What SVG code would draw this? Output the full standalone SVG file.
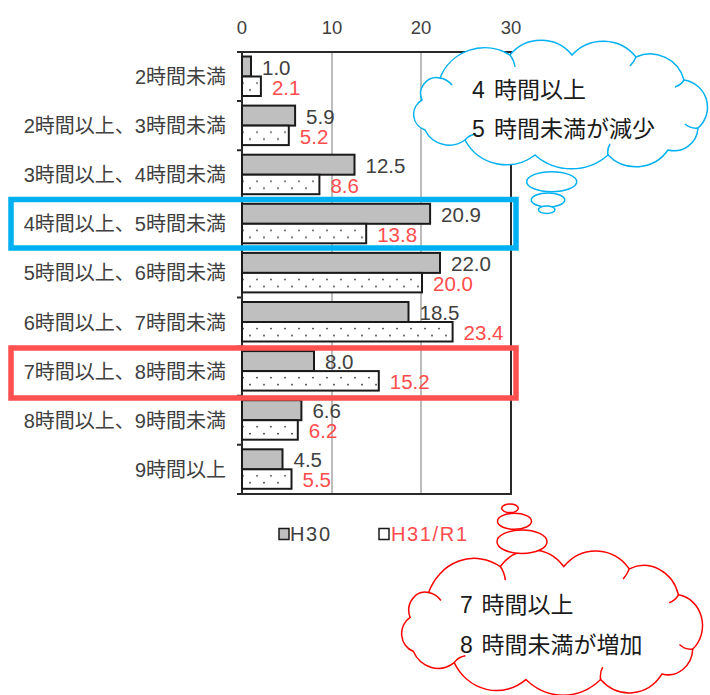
<svg xmlns="http://www.w3.org/2000/svg" width="710" height="695" viewBox="0 0 710 695">
<defs>
<style>
.lbl{font-family:"Liberation Sans","Noto Sans CJK JP",sans-serif;font-size:20px;fill:#404040;text-anchor:end}
.v30{font-family:"Liberation Sans",sans-serif;font-size:20.5px;fill:#404040}
.v31{font-family:"Liberation Sans",sans-serif;font-size:20.5px;fill:#ff4d4d}
.ax{font-family:"Liberation Sans",sans-serif;font-size:18.5px;fill:#404040;text-anchor:middle}
.b30{fill:#bfbfbf;stroke:#1a1a1a;stroke-width:2}
.b31{fill:url(#dots);stroke:#1a1a1a;stroke-width:2}
.grid{stroke:#a6a6a6;stroke-width:1.5}
.axis{stroke:#2a2a2a;stroke-width:2;fill:none}
.ct{font-family:"Liberation Sans","Noto Sans CJK JP",sans-serif;font-size:23px;fill:#1a1a1a}
.cb{fill:#fff;stroke:#00b0f0;stroke-width:1.5}
.cbi{fill:none;stroke:#00b0f0;stroke-width:1.5}
.cr{fill:#fff;stroke:#ff0000;stroke-width:1.5}
.cri{fill:none;stroke:#ff0000;stroke-width:1.5}
.leg{font-family:"Liberation Sans",sans-serif;font-size:20px}
</style>
<pattern id="dots" patternUnits="userSpaceOnUse" width="14" height="49.1">
<rect width="14" height="49.1" fill="#fff"/>
<circle cx="5" cy="31" r="0.9" fill="#333"/>
<circle cx="12" cy="38" r="0.9" fill="#333"/>
</pattern>
<path id="cloud" vector-effect="non-scaling-stroke" d="M25,35 A48,48 0 0 1 95,12 A40,40 0 0 1 157,12 A42,42 0 0 1 221,14 A35,35 0 0 1 269,37 A27.5,27.5 0 0 1 283,85 A24,24 0 0 1 253,107 A39,39 0 0 1 193,112 A55,55 0 0 1 120,112 A47,47 0 0 1 50,97 A27,27 0 0 1 10,87 A16.5,16.5 0 0 1 7,57 A16,16 0 0 1 25,35 Z"/>
<path id="cloudIn" vector-effect="non-scaling-stroke" d="M25,35 q7,1 12,7 M95,12 q4,5 5,12 M221,14 q-2,5 -6,9 M269,37 q-3,5 -9,7 M283,85 q-7,1 -13,-4 M193,112 q-1,-6 2,-11 M50,97 q4,-5 11,-6"/>
</defs>

<g id="axes">
<line class="grid" x1="332" y1="52" x2="332" y2="494"/>
<line class="grid" x1="421" y1="52" x2="421" y2="494"/>
<path class="axis" d="M242,52 H511 V494 H242 Z"/>
<path class="axis" d="M237,52 H242 M237,101.1 H242 M237,150.2 H242 M237,199.3 H242 M237,248.4 H242 M237,297.5 H242 M237,346.6 H242 M237,395.7 H242 M237,444.8 H242 M237,493.9 H242"/>
<text class="ax" x="242" y="34">0</text>
<text class="ax" x="332" y="34">10</text>
<text class="ax" x="421" y="34">20</text>
<text class="ax" x="511" y="34">30</text>
</g>

<g id="row-1" transform="translate(0,52)">
<text class="lbl" x="226" y="32">2時間未満</text>
<rect class="b30" x="242" y="4.5" width="9" height="20"/>
<rect class="b31" x="242" y="24.5" width="18.9" height="19.5"/>
<text class="v30" x="262" y="22.5">1.0</text>
<text class="v31" x="271.9" y="42.5">2.1</text>
</g>
<g id="row-2" transform="translate(0,101.1)">
<text class="lbl" x="226" y="32">2時間以上、3時間未満</text>
<rect class="b30" x="242" y="4.5" width="53.1" height="20"/>
<rect class="b31" x="242" y="24.5" width="46.8" height="19.5"/>
<text class="v30" x="306.1" y="22.5">5.9</text>
<text class="v31" x="299.8" y="42.5">5.2</text>
</g>
<g id="row-3" transform="translate(0,150.2)">
<text class="lbl" x="226" y="32">3時間以上、4時間未満</text>
<rect class="b30" x="242" y="4.5" width="112.5" height="20"/>
<rect class="b31" x="242" y="24.5" width="77.4" height="19.5"/>
<text class="v30" x="365.5" y="22.5">12.5</text>
<text class="v31" x="330.4" y="42.5">8.6</text>
</g>
<g id="row-4" transform="translate(0,199.3)">
<text class="lbl" x="226" y="32">4時間以上、5時間未満</text>
<rect class="b30" x="242" y="4.5" width="188.1" height="20"/>
<rect class="b31" x="242" y="24.5" width="124.2" height="19.5"/>
<text class="v30" x="441.1" y="22.5">20.9</text>
<text class="v31" x="377.2" y="42.5">13.8</text>
</g>
<g id="row-5" transform="translate(0,248.4)">
<text class="lbl" x="226" y="32">5時間以上、6時間未満</text>
<rect class="b30" x="242" y="4.5" width="198" height="20"/>
<rect class="b31" x="242" y="24.5" width="180" height="19.5"/>
<text class="v30" x="451" y="22.5">22.0</text>
<text class="v31" x="433" y="42.5">20.0</text>
</g>
<g id="row-6" transform="translate(0,297.5)">
<text class="lbl" x="226" y="32">6時間以上、7時間未満</text>
<rect class="b30" x="242" y="4.5" width="166.5" height="20"/>
<rect class="b31" x="242" y="24.5" width="210.6" height="19.5"/>
<text class="v30" x="419.5" y="22.5">18.5</text>
<text class="v31" x="463.6" y="42.5">23.4</text>
</g>
<g id="row-7" transform="translate(0,346.6)">
<text class="lbl" x="226" y="32">7時間以上、8時間未満</text>
<rect class="b30" x="242" y="4.5" width="72" height="20"/>
<rect class="b31" x="242" y="24.5" width="136.8" height="19.5"/>
<text class="v30" x="325" y="22.5">8.0</text>
<text class="v31" x="389.8" y="42.5">15.2</text>
</g>
<g id="row-8" transform="translate(0,395.7)">
<text class="lbl" x="226" y="32">8時間以上、9時間未満</text>
<rect class="b30" x="242" y="4.5" width="59.4" height="20"/>
<rect class="b31" x="242" y="24.5" width="55.8" height="19.5"/>
<text class="v30" x="312.4" y="22.5">6.6</text>
<text class="v31" x="308.8" y="42.5">6.2</text>
</g>
<g id="row-9" transform="translate(0,444.8)">
<text class="lbl" x="226" y="32">9時間以上</text>
<rect class="b30" x="242" y="4.5" width="40.5" height="20"/>
<rect class="b31" x="242" y="24.5" width="49.5" height="19.5"/>
<text class="v30" x="293.5" y="22.5">4.5</text>
<text class="v31" x="302.5" y="42.5">5.5</text>
</g>

<g id="legend">
<rect x="279" y="528.5" width="10" height="11" fill="#bfbfbf" stroke="#1a1a1a" stroke-width="1.5"/>
<text class="leg" x="290" y="541" fill="#404040" textLength="40" lengthAdjust="spacing">H30</text>
<rect x="379" y="528.5" width="10" height="11" fill="#fff" stroke="#1a1a1a" stroke-width="1.5"/>
<text class="leg" x="391" y="541" fill="#ff4d4d" textLength="76" lengthAdjust="spacing">H31/R1</text>
</g>

<g id="highlight-blue">
<rect x="11" y="199.5" width="505" height="48.5" fill="none" stroke="#00b0f0" stroke-width="5.5"/>
</g>
<g id="highlight-red">
<rect x="11" y="348" width="505" height="50" fill="none" stroke="#ff5050" stroke-width="5.5"/>
</g>

<g id="cloud-blue">
<use href="#cloud" class="cb" transform="translate(415,43)"/>
<use href="#cloudIn" class="cbi" transform="translate(415,43)"/>
<text class="ct" x="472" y="98">4 <tspan x="494">時間以上</tspan></text>
<text class="ct" x="472" y="137">5 <tspan x="494">時間未満が減少</tspan></text>
<ellipse class="cb" cx="551.7" cy="181.7" rx="25" ry="10"/>
<ellipse class="cb" cx="548" cy="200" rx="16.7" ry="7"/>
<ellipse class="cb" cx="546.7" cy="209.7" rx="8.3" ry="3.7"/>
</g>

<g id="cloud-red">
<use href="#cloud" class="cr" transform="translate(403,553) scale(1.024,1.13)"/>
<use href="#cloudIn" class="cri" transform="translate(403,553) scale(1.024,1.13)"/>
<text class="ct" x="460" y="613">7 <tspan x="481.5">時間以上</tspan></text>
<text class="ct" x="460" y="653">8 <tspan x="481.5">時間未満が増加</tspan></text>
<ellipse class="cr" cx="522" cy="541.7" rx="25" ry="11.7"/>
<ellipse class="cr" cx="514.5" cy="521.3" rx="17" ry="8"/>
<ellipse class="cr" cx="510" cy="508.3" rx="8.3" ry="4.3"/>
</g>
</svg>
